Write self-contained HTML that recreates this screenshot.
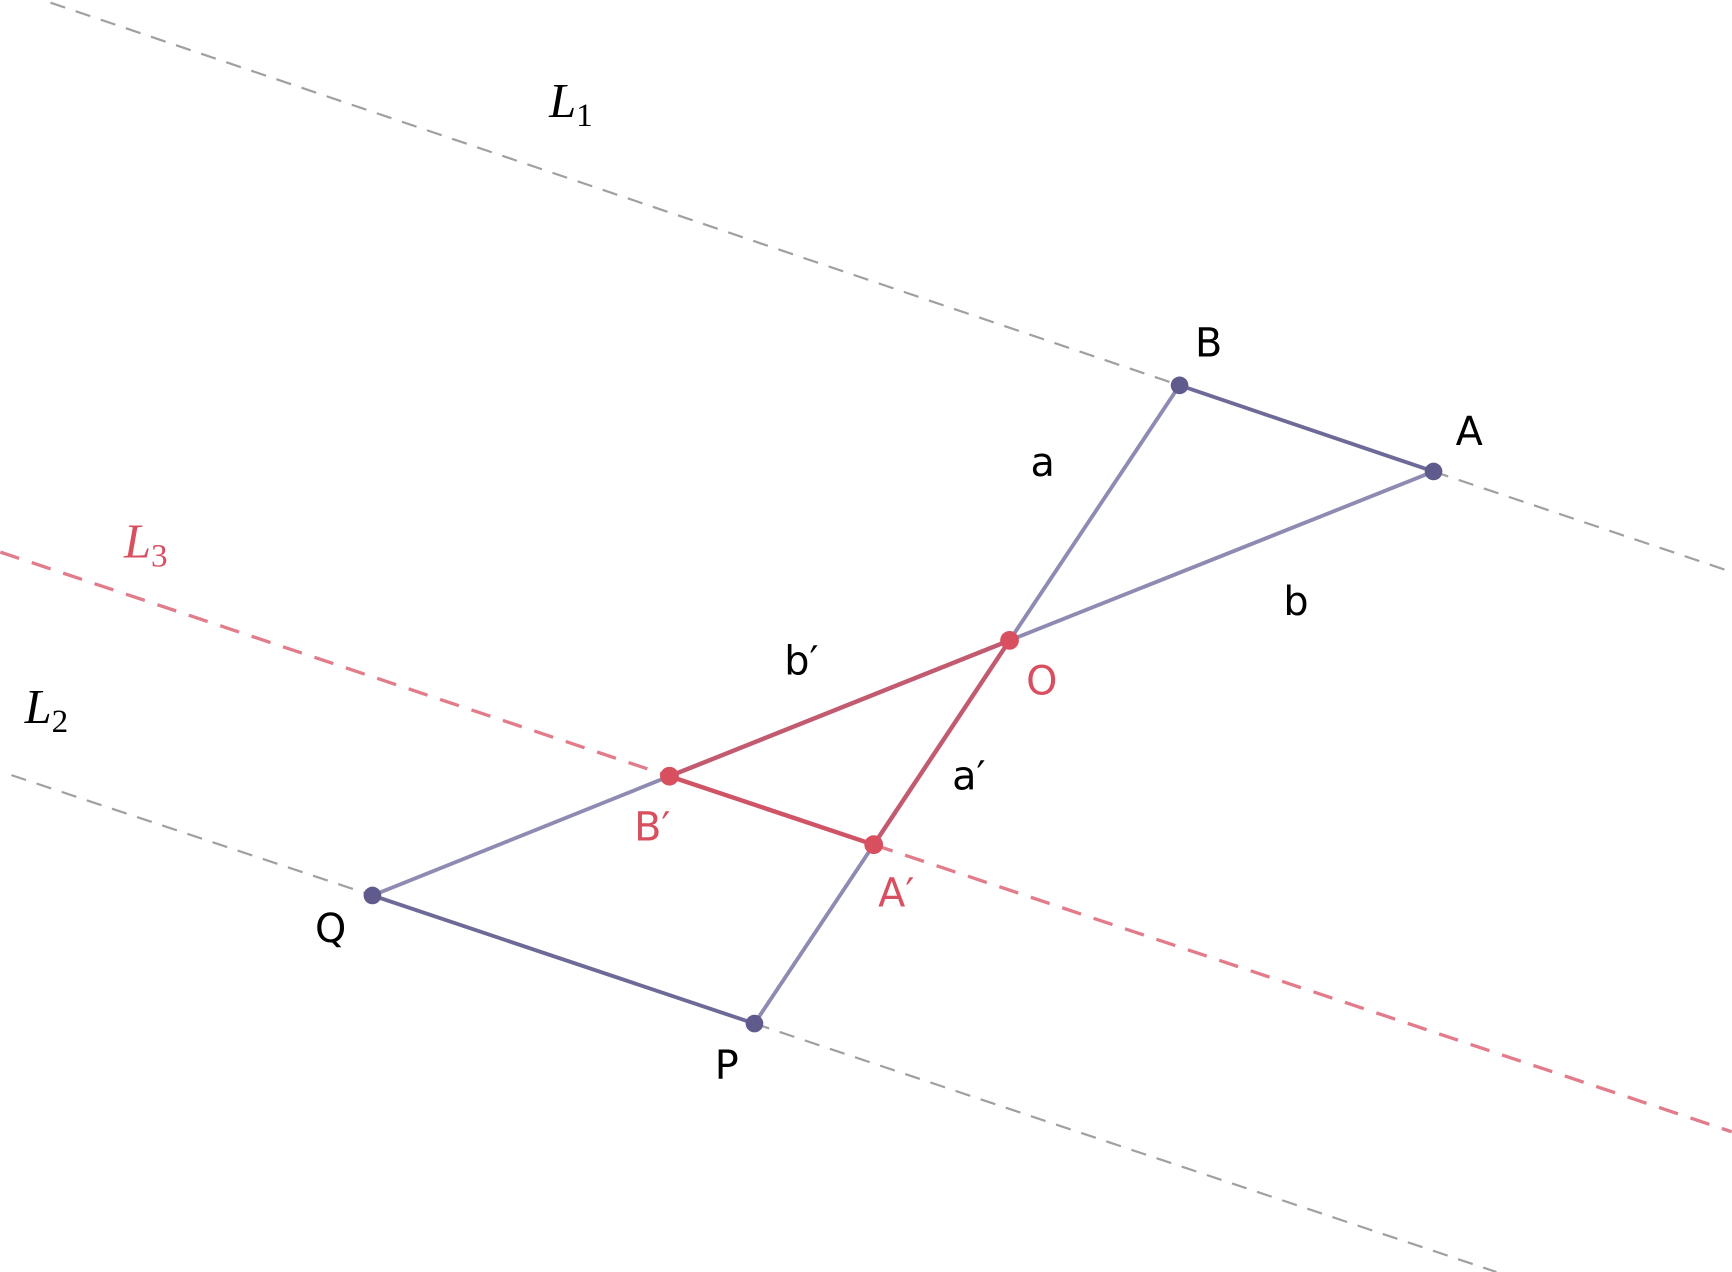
<!DOCTYPE html>
<html><head><meta charset="utf-8"><style>
html,body{margin:0;padding:0;background:#fff;}
svg{display:block}
.s{font-family:"DejaVu Sans","Liberation Sans",sans-serif;font-size:36px;}
.m{font-family:"Liberation Serif",serif;font-style:italic;font-size:44px;}
.sub{font-style:normal;font-size:30px;}
</style></head><body>
<svg width="1732" height="1272" viewBox="0 0 1568 1152" xmlns="http://www.w3.org/2000/svg">
<line x1="0" y1="-13" x2="1068" y2="349" stroke="#a0a0a0" stroke-width="2" stroke-dasharray="14,10"/>
<line x1="1298" y1="427" x2="1568" y2="518" stroke="#a0a0a0" stroke-width="2" stroke-dasharray="14,10"/>
<line x1="10" y1="702" x2="337" y2="811" stroke="#a0a0a0" stroke-width="2" stroke-dasharray="14,10"/>
<line x1="683" y1="927" x2="1355" y2="1152" stroke="#a0a0a0" stroke-width="2" stroke-dasharray="14,10"/>
<line x1="0" y1="500" x2="606" y2="703" stroke="#e27c8a" stroke-width="3" stroke-dasharray="18,12"/>
<line x1="791" y1="765" x2="1568" y2="1025" stroke="#e27c8a" stroke-width="3" stroke-dasharray="18,12"/>
<g stroke="#8e8bb2" stroke-width="3.5" fill="none">
<line x1="1068" y1="349" x2="1298" y2="427" stroke="#6e6a98"/>
<line x1="1068" y1="349" x2="914" y2="580"/>
<line x1="1298" y1="427" x2="914" y2="580"/>
<line x1="606" y1="703" x2="337" y2="811"/>
<line x1="791" y1="765" x2="683" y2="927"/>
<line x1="337" y1="811" x2="683" y2="927" stroke="#6e6a98"/>
</g>
<g stroke="#c25a70" stroke-width="4" fill="none">
<line x1="914" y1="580" x2="606" y2="703"/>
<line x1="914" y1="580" x2="791" y2="765"/>
<line x1="606" y1="703" x2="791" y2="765" stroke="#cf5566"/>
</g>
<g fill="#5f5b8c">
<circle cx="1068" cy="349" r="8"/><circle cx="1298" cy="427" r="8"/>
<circle cx="337" cy="811" r="8"/><circle cx="683" cy="927" r="8"/>
</g>
<g fill="#d84f60">
<circle cx="914" cy="580" r="8.5"/><circle cx="606" cy="703" r="8.5"/><circle cx="791" cy="765" r="8.5"/>
</g>
<text class="m" x="497" y="106">L<tspan class="sub" dy="8">1</tspan></text>
<text class="m" x="112" y="505" fill="#d84f60">L<tspan class="sub" dy="8">3</tspan></text>
<text class="m" x="22" y="655">L<tspan class="sub" dy="8">2</tspan></text>
<g class="s">
<text x="1082" y="323">B</text>
<text x="1318" y="403">A</text>
<text x="933" y="431">a</text>
<text x="1162" y="557">b</text>
<text x="710" y="611">b′</text>
<text x="929" y="629" fill="#d84f60">O</text>
<text x="862" y="715">a′</text>
<text x="574" y="761" fill="#d84f60">B′</text>
<text x="795" y="821" fill="#d84f60">A′</text>
<text x="285" y="853">Q</text>
<text x="647" y="977">P</text>
</g>
</svg>
</body></html>
